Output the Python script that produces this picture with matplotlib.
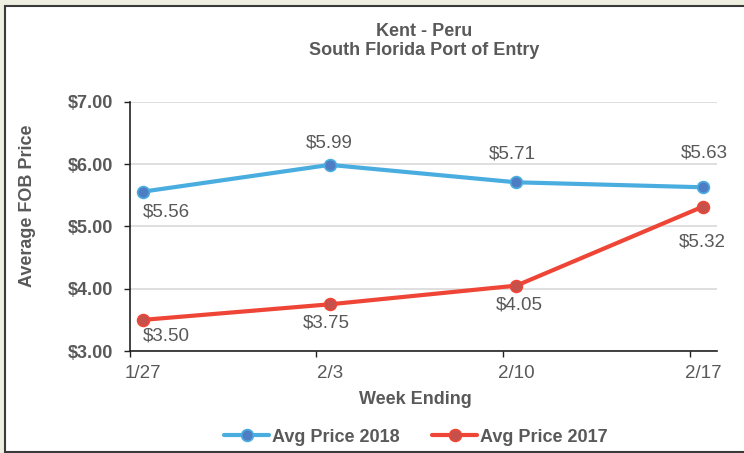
import matplotlib
matplotlib.use("Agg")
import matplotlib.pyplot as plt
from matplotlib.patches import Rectangle
from matplotlib.ticker import FixedLocator, NullFormatter, FuncFormatter

plt.rcParams['font.family'] = ['Liberation Sans', 'DejaVu Sans']

# ---- data ----
weeks = ["1/27", "2/3", "2/10", "2/17"]
price_2018 = [5.56, 5.99, 5.71, 5.63]
price_2017 = [3.50, 3.75, 4.05, 5.32]
y_ticks = [3.0, 4.0, 5.0, 6.0, 7.0]
title = "Kent - Peru\nSouth Florida Port of Entry"
series_names = ["Avg Price 2018", "Avg Price 2017"]

# ---- style ----
TEXT = "#595959"
BLUE_LINE, BLUE_MARK = "#4aaddf", "#4e7dc3"
RED_LINE, RED_MARK = "#ef4536", "#c6504a"
W, H = 744, 453

# label offsets in pixels (dx, dy, ha) -- styling only
off_2018 = [(0, -20, "left"), (0, 22, "center"), (-4, 28, "center"), (1, 34, "center")]
off_2017 = [(0, -16, "left"), (-3, -19, "center"), (3, -19, "center"), (-1, -35, "center")]

fig = plt.figure(figsize=(W / 100, H / 100), dpi=100)
fig.patch.set_facecolor("#eeeee1")
fig.patches.append(Rectangle((5 / W, 1.5 / H), 1.1, (451 - 5) / H, transform=fig.transFigure,
                             facecolor="white", edgecolor="#3a3a3a", linewidth=1.5, zorder=-10))

ax = fig.add_axes([129.5 / W, 1 - 351 / H, (717 - 129.5) / W, (351 - 102) / H])
ax.set_facecolor("none")

x = list(range(len(weeks)))
ax.plot(x, price_2018, color=BLUE_LINE, lw=3, marker="o", ms=8.5, mfc=BLUE_MARK,
        mec=BLUE_LINE, mew=1.2, solid_capstyle="round", label=series_names[0], zorder=3)
ax.plot(x, price_2017, color=RED_LINE, lw=3, marker="o", ms=8.5, mfc=RED_MARK,
        mec=RED_LINE, mew=1.2, solid_capstyle="round", label=series_names[1], zorder=3)

px2pt = 0.72
for xi, v, (dx, dy, ha) in zip(x, price_2018, off_2018):
    ax.annotate(f"${v:.2f}", (xi, v), xytext=(dx * px2pt, dy * px2pt), textcoords="offset points",
                ha=ha, va="center", fontsize=13.5, color=TEXT)
for xi, v, (dx, dy, ha) in zip(x, price_2017, off_2017):
    ax.annotate(f"${v:.2f}", (xi, v), xytext=(dx * px2pt, dy * px2pt), textcoords="offset points",
                ha=ha, va="center", fontsize=13.5, color=TEXT)

ax.set_ylim(y_ticks[0], y_ticks[-1])
ax.set_yticks(y_ticks)
ax.yaxis.set_major_formatter(FuncFormatter(lambda v, p: f"${v:.2f}"))
ax.tick_params(axis="y", direction="out", length=4.5, width=1, color="#222222",
               labelsize=13, labelcolor=TEXT, pad=7.5)
for lab in ax.get_yticklabels():
    lab.set_fontweight("bold")

shift = 13.5 / 186.67
ax.set_xlim(-shift, len(weeks) - 1 + (717 - 703) / 186.67)
ax.xaxis.set_major_locator(FixedLocator([i - shift for i in x]))
ax.xaxis.set_major_formatter(NullFormatter())
ax.xaxis.set_minor_locator(FixedLocator(x))
ax.set_xticklabels(weeks, minor=True)
ax.tick_params(axis="x", which="major", direction="out", length=4.5, width=1, color="#222222")
ax.tick_params(axis="x", which="minor", length=0, labelsize=13.5, labelcolor=TEXT, pad=10)

ax.grid(axis="y", color="#d9d9d9", lw=1.2, zorder=0)
ax.set_axisbelow(True)
for s in ("top", "right"):
    ax.spines[s].set_visible(False)
for s in ("left", "bottom"):
    ax.spines[s].set_color("#222222")
    ax.spines[s].set_linewidth(1.2)

fig.text(424 / W, 1 - 41 / H, title, ha="center", va="center", fontsize=13,
         fontweight="bold", color=TEXT, linespacing=1.2)
fig.text(415 / W, 1 - 400 / H, "Week Ending", ha="center", va="center", fontsize=13,
         fontweight="bold", color=TEXT)
fig.text(27 / W, 1 - 206 / H, "Average FOB Price", ha="center", va="center", fontsize=13,
         fontweight="bold", color=TEXT, rotation=90)

handles, labels = ax.get_legend_handles_labels()
fig.legend(handles, labels, loc="center", bbox_to_anchor=(416 / W, 1 - 437 / H), ncol=2,
           frameon=False, handlelength=2.5, handletextpad=0.15, columnspacing=1.8,
           prop={"size": 13, "weight": "bold"}, labelcolor=TEXT, borderaxespad=0)

fig.savefig("out.png", dpi=100, facecolor=fig.get_facecolor())
